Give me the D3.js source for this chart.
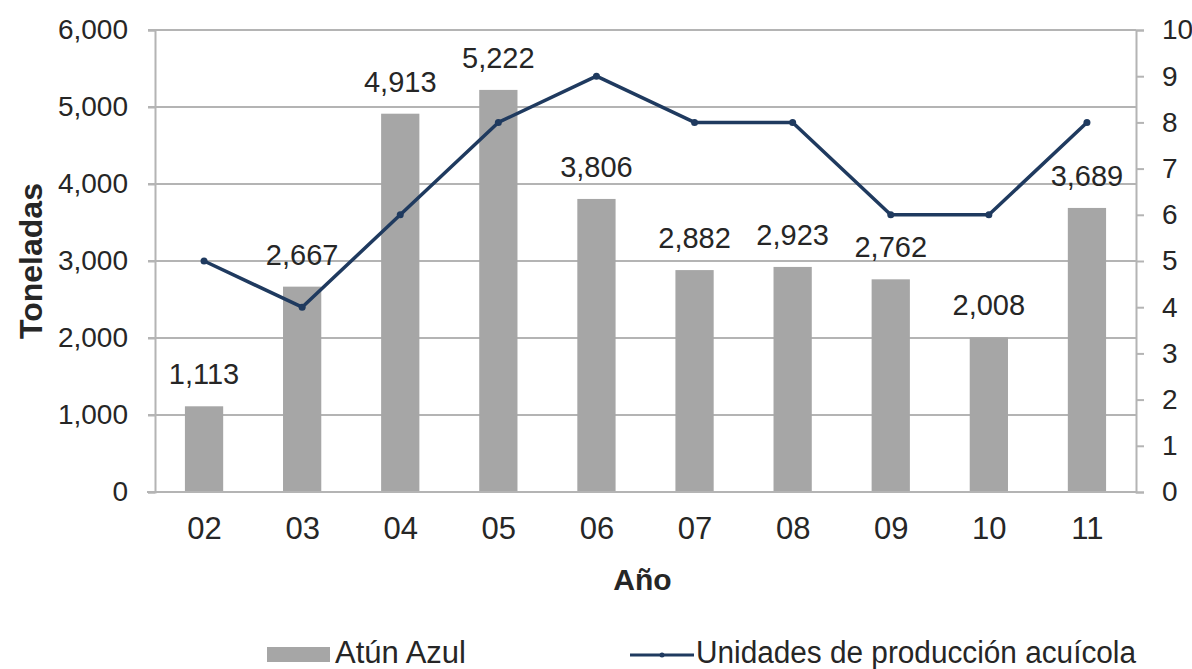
<!DOCTYPE html>
<html>
<head>
<meta charset="utf-8">
<script src="https://cdn.jsdelivr.net/npm/d3@7"></script>
<style>
  body { margin: 0; background: #fff; }
  text { font-family: "Liberation Sans", Arial, sans-serif; fill: #262626; }
</style>
</head>
<body>
<div id="chart"></div>
<script>
// data
var years = ["02", "03", "04", "05", "06", "07", "08", "09", "10", "11"];
var tonnes = [1113, 2667, 4913, 5222, 3806, 2882, 2923, 2762, 2008, 3689];
var units = [5, 4, 6, 8, 9, 8, 8, 6, 6, 8];
var leftTicks = [0, 1000, 2000, 3000, 4000, 5000, 6000];
var rightTicks = [0, 1, 2, 3, 4, 5, 6, 7, 8, 9, 10];

var W = 1192, H = 669;
var margin = { top: 30, right: 56, bottom: 177, left: 155 };
var width = W - margin.left - margin.right;
var height = H - margin.top - margin.bottom;

var FONT = '"Liberation Sans", Arial, sans-serif';

var svg = d3.select('#chart').append('svg')
  .attr('width', W).attr('height', H);

var chart = svg.append('g')
  .attr('transform', 'translate(' + margin.left + ',' + margin.top + ')');

///////////////////////
// Scales
var xc = d3.scalePoint().domain(years).range([0, width]).padding(0.5);
var y = d3.scaleLinear().domain([0, 6000]).range([height, 0]);
var y2 = d3.scaleLinear().domain([0, 10]).range([height, 0]);
var barW = xc.step() * 0.39;

var fmt = d3.format(',');

///////////////////////
// Grid
chart.append('g').selectAll('line')
  .data(leftTicks.slice(1))
  .enter().append('line')
  .attr('x1', -7).attr('x2', width)
  .attr('y1', function(d) { return y(d); })
  .attr('y2', function(d) { return y(d); })
  .attr('stroke', '#b4b4b4').attr('stroke-width', 2);

///////////////////////
// Bars
chart.append('g').selectAll('rect')
  .data(tonnes)
  .enter().append('rect')
  .attr('x', function(d, i) { return xc(years[i]) - barW / 2; })
  .attr('width', barW)
  .attr('y', function(d) { return y(d); })
  .attr('height', function(d) { return height - y(d); })
  .attr('fill', '#a6a6a6');

// value labels
chart.append('g').selectAll('text')
  .data(tonnes)
  .enter().append('text')
  .attr('x', function(d, i) { return xc(years[i]); })
  .attr('y', function(d) { return y(d) - 22; })
  .attr('text-anchor', 'middle')
  .attr('font-size', '29px')
  .text(function(d) { return fmt(d); });

///////////////////////
// Axes
function styleAxis(g, size) {
  g.select('.domain').attr('stroke', '#b4b4b4').attr('stroke-width', 2);
  g.selectAll('.tick line').attr('stroke', '#b4b4b4').attr('stroke-width', 2);
  g.selectAll('text').attr('font-size', size).attr('fill', '#262626')
    .attr('font-family', FONT);
}

var leftAxis = d3.axisLeft(y).tickValues(leftTicks).tickSize(7).tickPadding(20)
  .tickFormat(fmt);
var gl = chart.append('g').call(leftAxis);
styleAxis(gl, '28px');

var rightAxis = d3.axisRight(y2).tickValues(rightTicks).tickSize(8).tickPadding(18);
var gr = chart.append('g').attr('transform', 'translate(' + width + ',0)').call(rightAxis);
styleAxis(gr, '28px');

var bottomAxis = d3.axisBottom(xc).tickSize(0).tickPadding(25);
var gb = chart.append('g').attr('transform', 'translate(0,' + height + ')').call(bottomAxis);
styleAxis(gb, '31px');
gb.select('.domain').attr('d', 'M-8,0H' + width);

///////////////////////
// Line
var line = d3.line()
  .x(function(d, i) { return xc(years[i]); })
  .y(function(d) { return y2(d); });

chart.append('path')
  .datum(units)
  .attr('fill', 'none')
  .attr('stroke', '#1f3a5f')
  .attr('stroke-width', 3.5)
  .attr('stroke-linejoin', 'round')
  .attr('d', line);

chart.append('g').selectAll('circle')
  .data(units)
  .enter().append('circle')
  .attr('cx', function(d, i) { return xc(years[i]); })
  .attr('cy', function(d) { return y2(d); })
  .attr('r', 3.5)
  .attr('fill', '#1f3a5f');

///////////////////////
// Axis titles
svg.append('text')
  .attr('transform', 'translate(42,' + (margin.top + height / 2) + ') rotate(-90)')
  .attr('text-anchor', 'middle')
  .attr('font-size', '32px').attr('font-weight', 'bold')
  .text('Toneladas');

svg.append('text')
  .attr('x', margin.left + width / 2 - 3)
  .attr('y', 590)
  .attr('text-anchor', 'middle')
  .attr('font-size', '30px').attr('font-weight', 'bold')
  .text('Año');

///////////////////////
// Legend
var legend = svg.append('g');
legend.append('rect')
  .attr('x', 267).attr('y', 647).attr('width', 63).attr('height', 15)
  .attr('fill', '#a6a6a6');
legend.append('text')
  .attr('x', 335).attr('y', 663)
  .attr('font-size', '31px')
  .text('Atún Azul');

legend.append('line')
  .attr('x1', 630).attr('x2', 694).attr('y1', 655).attr('y2', 655)
  .attr('stroke', '#1f3a5f').attr('stroke-width', 3);
legend.append('circle')
  .attr('cx', 662).attr('cy', 655).attr('r', 2.5).attr('fill', '#1f3a5f');
legend.append('text')
  .attr('x', 696).attr('y', 663)
  .attr('font-size', '31px')
  .attr('textLength', 440).attr('lengthAdjust', 'spacingAndGlyphs')
  .text('Unidades de producción acuícola');
</script>
</body>
</html>
